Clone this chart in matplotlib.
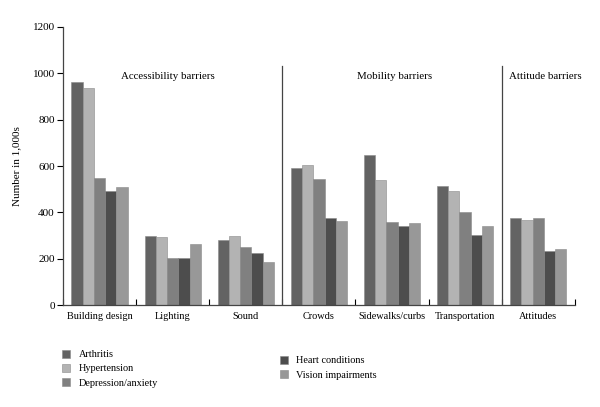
import numpy as np
import matplotlib
matplotlib.use("Agg")
import matplotlib.pyplot as plt

plt.rcParams['font.family'] = ['Liberation Serif', 'DejaVu Serif']

categories = ['Building design', 'Lighting', 'Sound', 'Crowds',
              'Sidewalks/curbs', 'Transportation', 'Attitudes']
arthritis = [963, 298, 283, 593, 649, 515, 376]
hypertension = [936, 293, 298, 604, 540, 494, 367]
depression = [550, 204, 252, 545, 357, 400, 376]
heart = [492, 205, 227, 377, 342, 301, 235]
vision = [511, 264, 187, 363, 354, 342, 241]

series_names = ['Arthritis', 'Hypertension', 'Depression/anxiety',
                'Heart conditions', 'Vision impairments']
colors = ['#636363', '#b3b3b3', '#808080', '#4d4d4d', '#989898']
groups = ['Accessibility barriers', 'Mobility barriers', 'Attitude barriers']
group_centers = [0.94, 4.04, 6.1]
dividers = [2.5, 5.5]

fig = plt.figure(figsize=(6, 4.07), dpi=100)
ax = fig.add_axes([0.105, 0.25, 0.853, 0.684])

x = np.arange(len(categories))
w = 0.154
data = [arthritis, hypertension, depression, heart, vision]
handles = []
for i, (vals, c, name) in enumerate(zip(data, colors, series_names)):
    b = ax.bar(x + (i - 2) * w, vals, width=w, color=c, edgecolor='#8a8a8a',
               linewidth=0.4, label=name)
    handles.append(b)

for d in dividers:
    ax.plot([d, d], [0, 1032], color='#444444', lw=0.9)

for g, cx in zip(groups, group_centers):
    ax.text(cx, 985, g, ha='center', va='center', fontsize=7.8)

ax.set_xlim(-0.5, 6.5)
ax.set_ylim(0, 1200)
ax.set_yticks(range(0, 1201, 200))
ax.set_xticks(np.arange(-0.5, 7, 1))
ax.set_xticklabels([])
ax.set_xticks(x, minor=True)
ax.set_xticklabels(categories, minor=True)
ax.tick_params(axis='x', which='minor', length=0, labelsize=7.4, pad=5)
ax.tick_params(axis='x', which='major', direction='in', length=4, width=0.8)
ax.tick_params(axis='y', labelsize=8, length=4, width=0.8, pad=2)
for s in ['top', 'right']:
    ax.spines[s].set_visible(False)
for s in ['left', 'bottom']:
    ax.spines[s].set_color('#444444')
    ax.spines[s].set_linewidth(0.9)
ax.set_ylabel('Number in 1,000s', fontsize=8, labelpad=8)

leg_kw = dict(loc='upper left', frameon=False, fontsize=7.4,
              handlelength=0.8, handleheight=0.8, handletextpad=0.8,
              labelspacing=0.45, borderpad=0)
fig.legend(handles[:3], series_names[:3], bbox_to_anchor=(0.095, 0.153), **leg_kw)
fig.legend(handles[3:], series_names[3:], bbox_to_anchor=(0.458, 0.138), **leg_kw)

fig.savefig('out.png', dpi=100)
